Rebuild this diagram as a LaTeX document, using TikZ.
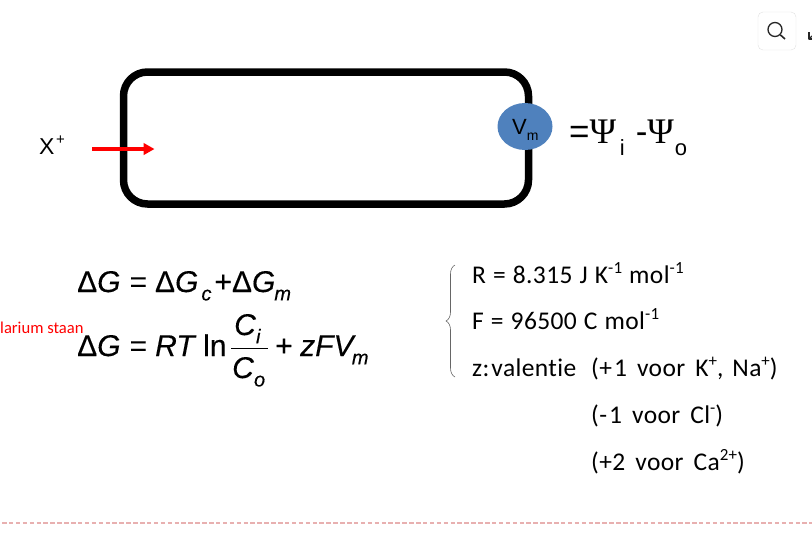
\documentclass[tikz,border=0pt]{standalone}
\usepackage{fontspec}
\setmainfont{Carlito}
\newfontfamily\txtfont[LetterSpace=1.5, WordSpace=1.15, Ligatures=NoCommon]{Carlito}
\newfontfamily\eqfont[FakeBold=0.25]{Liberation Sans}
\newfontfamily\lblfont{Liberation Sans}
\newfontfamily\psifont{Liberation Serif}
\usetikzlibrary{arrows.meta, decorations.pathreplacing, shapes.geometric}
\definecolor{vmblue}{HTML}{4F81BD}
\definecolor{pagedash}{HTML}{E8B0B0}
\tikzset{
	txt/.style = { inner sep = 0, anchor = base west, font = \fontsize{25.5}{25.5}\selectfont\txtfont },
	eq/.style = { inner sep = 0, anchor = base west, font = \fontsize{30}{30}\selectfont\eqfont },
	lbl/.style = { inner sep = 0, anchor = base west, font = \fontsize{23}{23}\selectfont\lblfont }
}
\newcommand{\up}[1]{\raisebox{0.36em}{\fontsize{17}{17}\selectfont #1}}
\newcommand{\dn}[1]{\raisebox{-0.28em}{\fontsize{20}{20}\selectfont\itshape #1}}
\newcommand{\psisym}{{\psifont\fontsize{36}{36}\selectfont Ψ}}
\newcommand{\psisub}[1]{\raisebox{-0.35em}{\fontsize{22}{22}\selectfont #1}}
\begin{document}
\begin{tikzpicture}[x = 1pt, y = -1pt, line join = round]
	\useasboundingbox (0, 0) rectangle (812, 539);
	% membrane and potential
	\node [draw, line width = 7.5pt, rounded corners = 24pt, minimum width = 405pt, minimum height = 132pt] (cell) at (326, 138) {};
	\node [ellipse, fill = vmblue, minimum width = 55pt, minimum height = 47pt, inner sep = 0] (vm) at (525, 126.5) {};
	\node [lbl, font = \fontsize{22}{22}\selectfont\lblfont] (vmtext) at (512, 134) {V\raisebox{-0.28em}{\fontsize{14}{14}\selectfont m}};
	\node [lbl, font = \fontsize{35}{35}\selectfont\lblfont] (psi) at (569, 143) {=\psisym\psisub{\,i}\hspace{11pt}-\psisym\psisub{\hspace{1pt}o}};
	% ion
	\node [lbl] (ion) at (39, 154) {X\hspace{1.5pt}\raisebox{0.42em}{\fontsize{15}{15}\selectfont +}};
	\coordinate (ionstart) at (92, 149);
	\coordinate (ionend) at (154.5, 149);
	\draw [-{Triangle[length = 11pt, width = 11.5pt]}, red, line width = 3.8pt] (ionstart) -- (ionend);
	% equations
	\node [eq] (eqa) at (77, 292) {Δ\textit{G}\hspace{9pt}=\hspace{8pt}Δ\textit{G}\hspace{3pt}\dn{c}\hspace{3pt}+Δ\textit{G}\hspace{-1pt}\dn{m}};
	\node [eq] (eqb) at (77, 356) {Δ\textit{G}\hspace{9pt}=};
	\node [eq] (rt) at (155, 356) {\textit{RT}};
	\node [eq] (ln) at (203, 356) {ln};
	\node [eq] (ci) at (234, 335) {\textit{C}\dn{i}};
	\node [eq] (co) at (232, 378) {\textit{C}\dn{o}};
	\coordinate (barleft) at (231, 348);
	\coordinate (barright) at (268, 348);
	\draw [line width = 1pt] (barleft) -- (barright);
	\node [eq] (plus) at (275, 356) {+};
	\node [eq] (zfv) at (300, 356) {\textit{zFV}\hspace{-4pt}\dn{m}};
	\node [txt, text = red, font = \fontsize{16.6}{16.6}\selectfont] (clipped) at (0, 333) {larium staan};
	% constants
	\coordinate (bracetop) at (455, 265);
	\coordinate (bracebot) at (455, 377);
	\draw [decorate, decoration = { brace, amplitude = 9pt, aspect = 0.5 }, line width = 0.6pt, black!60] (bracebot) -- (bracetop);
	\node [txt] (rconst) at (472, 283) {R = 8.315 J K\up{-1} mol\up{-1}};
	\node [txt] (fconst) at (472, 329) {F = 96500 C mol\up{-1}};
	\node [txt] (zval) at (472, 376) {z:\hspace{2pt}valentie};
	\node [txt] (zk) at (591, 376) {(+\hspace{2pt}1\hspace{3pt} voor\hspace{3pt} K\up{+},\hspace{2pt} Na\up{+})};
	\node [txt] (zcl) at (591, 423) {(-\hspace{2pt}1\hspace{3pt} voor\hspace{3pt} Cl\up{-})};
	\node [txt] (zca) at (591, 470) {(+2\hspace{3pt} voor\hspace{3pt} Ca\up{2+})};
	% page furniture
	\coordinate (dashstart) at (2, 523);
	\coordinate (dashend) at (812, 523);
	\draw [pagedash, line width = 1.2pt, dash pattern = on 4.5pt off 2.4pt] (dashstart) -- (dashend);
	\node [draw = black!12, rounded corners = 5pt, minimum size = 38pt, inner sep = 0] (searchbox) at (777, 31) {};
	\node [circle, draw = black!85, line width = 1.3pt, minimum size = 14pt, inner sep = 0] (lens) at (775, 29.5) {};
	\coordinate (handle) at (785, 39);
	\draw [black!85, line width = 1.6pt] (lens.south east) -- (handle);
	\coordinate (tipa) at (809, 39);
	\coordinate (tipb) at (812, 36);
	\draw [black!85, line width = 1.1pt] (809, 32) -- (tipa) -- (812, 39);
	\draw [black!85, line width = 1.1pt] (tipa) -- (tipb);
\end{tikzpicture}
\end{document}
